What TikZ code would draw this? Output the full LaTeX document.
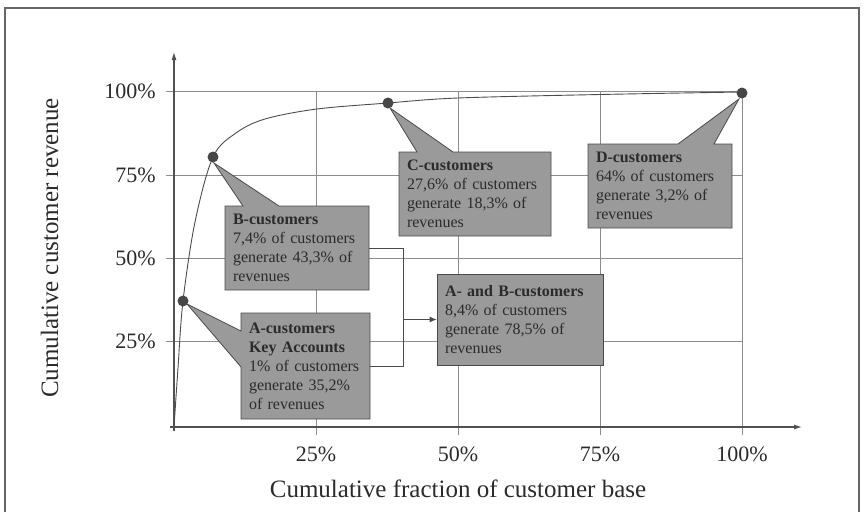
\documentclass[tikz,border=0pt]{standalone}
\usepackage{fontspec}
\setmainfont{Liberation Serif}
\usetikzlibrary{arrows.meta,shapes.callouts}
\definecolor{boxfill}{HTML}{9A9A9A}
\definecolor{boxline}{HTML}{4A4A4A}
\definecolor{ink}{HTML}{2B2B2B}
\definecolor{gridc}{HTML}{8C8C8C}
\definecolor{axisc}{HTML}{505050}
\begin{document}
\begin{tikzpicture}[x=1pt,y=-1pt,
  gridline/.style={gridc, line width=0.8pt},
  axisline/.style={axisc, line width=1.1pt, -{Latex[length=8pt,width=5pt]}},
  ticklabel/.style={font=\fontsize{22}{26}\selectfont, text=ink, inner sep=0pt},
  axistitle/.style={font=\fontsize{25}{30}\selectfont, text=ink, inner sep=0pt},
  infobox/.style={fill=boxfill, draw=boxline, line width=0.8pt, text=ink,
    font=\fontsize{16}{19}\selectfont, align=left, inner xsep=8pt, inner ysep=0pt},
  bubble/.style={infobox, rectangle callout, callout pointer width=36pt},
  dot/.style={circle, fill=black!72, inner sep=0pt, minimum size=11pt},
  link/.style={boxline, line width=0.8pt},
  curve/.style={black!70, line width=0.9pt}
]
\useasboundingbox (0,0) rectangle (864,512);

% outer frame
\draw[black!60, line width=1.2pt] (5,512) -- (5,8) -- (859,8) -- (859,512);

% grid
\foreach \gy in {91,175,258,341} \draw[gridline] (166,\gy) -- (742,\gy);
\foreach \gx in {316,458,600,742} \draw[gridline] (\gx,435) -- (\gx,91);

% axes
\coordinate (origin) at (174,427);
\coordinate (ytop) at (174,52);
\coordinate (xend) at (802,427);
\draw[axisline] (174,431) -- (ytop);
\draw[axisline] (170,427) -- (xend);

% tick labels
\node[ticklabel, anchor=east] (y100) at (156,91) {100\%};
\node[ticklabel, anchor=east] (y75) at (156,175) {75\%};
\node[ticklabel, anchor=east] (y50) at (156,258) {50\%};
\node[ticklabel, anchor=east] (y25) at (156,341) {25\%};
\node[ticklabel, anchor=base] (x25) at (316,461) {25\%};
\node[ticklabel, anchor=base] (x50) at (458,461) {50\%};
\node[ticklabel, anchor=base] (x75) at (600,461) {75\%};
\node[ticklabel, anchor=base] (x100) at (742,461) {100\%};

% axis titles
\node[axistitle, anchor=base] (xtitle) at (458,497) {Cumulative fraction of customer base};
\node[axistitle, rotate=90, anchor=base] (ytitle) at (58,248) {Cumulative customer revenue};

% concentration curve
\draw[curve] plot[smooth, tension=0.55] coordinates {
  (174,427) (178,368) (183,301) (195,222) (213,157) (236,133) (265,119)
  (317,109) (388,103) (458,98) (600,94.5) (742,92)};

% pointer tips
\coordinate (pA) at (187,304);
\coordinate (pB) at (214,163);
\coordinate (pC) at (390,108);
\coordinate (pD) at (739,99);

% callout boxes
\node[bubble, callout absolute pointer={(pB)}, text width=128pt, minimum height=84pt] (B) at (297,248)
  {\textbf{B-customers}\\7,4\% of customers\\generate 43,3\% of\\revenues};
\node[bubble, callout absolute pointer={(pC)}, text width=136pt, minimum height=84pt] (C) at (475,194)
  {\textbf{C-customers}\\27,6\% of customers\\generate 18,3\% of\\revenues};
\node[bubble, callout absolute pointer={(pD)}, text width=128pt, minimum height=84pt] (D) at (660,186)
  {\textbf{D-customers}\\64\% of customers\\generate 3,2\% of\\revenues};
\node[bubble, callout absolute pointer={(pA)}, text width=113pt, minimum height=106pt] (A) at (305.5,366)
  {\textbf{A-customers}\\\textbf{Key Accounts}\\1\% of customers\\generate 35,2\%\\of revenues};
\node[infobox, text width=150pt, minimum height=91pt] (AB) at (520,319.5)
  {\textbf{A- and B-customers}\\8,4\% of customers\\generate 78,5\% of\\revenues};

% bracket joining A and B into the combined box
\coordinate (join) at (403,319.5);
\draw[link] (B.east) -- ++(34,0) |- (A.east);
\draw[link, -{Latex[length=7pt,width=6pt]}] (join) -- (AB.west);

% data points
\node[dot] (dA) at (183,301) {};
\node[dot] (dB) at (213,157) {};
\node[dot] (dC) at (388,103) {};
\node[dot] (dD) at (742,93) {};
\end{tikzpicture}
\end{document}
